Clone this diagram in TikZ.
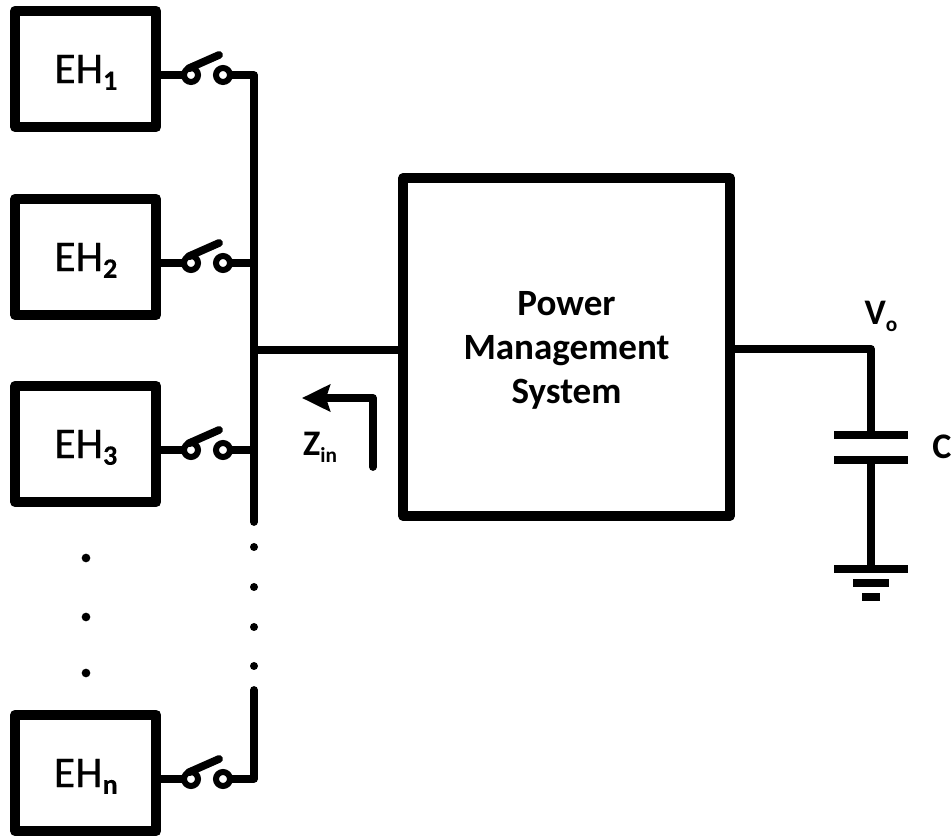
\documentclass[tikz,border=0pt]{standalone}
\usepackage{fontspec}
\setmainfont{Carlito}
\newfontfamily\ehfont[FakeBold=.35]{Carlito}
\usetikzlibrary{arrows.meta}
\usetikzlibrary{calc}
\tikzset{
	ehbox/.style={draw, line width=7.5pt, line join=round, minimum width=105.75pt, minimum height=87.4pt, inner sep=0pt, font=\ehfont\fontsize{33}{33}\selectfont},
	pmbox/.style={draw, line width=7.5pt, line join=round, minimum width=245pt, minimum height=253.5pt, inner sep=0pt},
	pmtxt/.style={align=center, inner sep=0pt, font=\fontsize{27.8}{33}\selectfont\bfseries},
	contact/.style={draw, circle, line width=4.5pt, minimum size=10.5pt, inner sep=0pt, outer sep=0pt},
	wire/.style={line width=5.8pt, line join=round},
	plate/.style={line width=5.6pt},
	lbl/.style={font=\fontsize{27}{27}\selectfont\bfseries, inner sep=0pt}
}
\newcommand{\subtxt}[2]{\smash{\raisebox{-5pt}{\fontsize{#1}{#1}\selectfont #2}}}
\begin{document}
\begin{tikzpicture}[x=.75pt, y=-.75pt]
	\useasboundingbox (0,0) rectangle (951,837);

	% harvester boxes and switches
	\foreach \n/\y/\s in {1/69/1, 2/257/2, 3/444/3, n/773/n} {
		\node[ehbox] (eh\n) at (85.75,\y) {EH\subtxt{21}{\bfseries\s}};
		\node[contact] (swa\n) at (191,\y+6) {};
		\node[contact] (swb\n) at (223,\y+6) {};
		\coordinate (tip\n) at (219,\y-14);
		\coordinate (bus\n) at (254,\y+6);
		\draw[wire] (eh\n.east |- swa\n) -- (swa\n);
		\draw[wire, line cap=round] (swa\n.110) -- (tip\n);
		\draw[wire] (swb\n) -- (bus\n);
	}

	\node[pmbox] (pms) at (566.5,347) {};
	\node[pmtxt] (pmslab) at ($(pms.center)+(0,3)$) {Power\\Management\\System};

	% bus
	\coordinate (busend) at (254,522);
	\coordinate (busgap) at (254,690);
	\coordinate (busm) at (254,350);
	\draw[wire, line cap=round] (bus1) -- (busend);
	\draw[wire, line cap=round] (busgap) -- (busn);
	\draw[wire] (busm) -- (pms.west |- busm);

	% dots
	\foreach \y [count=\i] in {547,587,627,666} {
		\node[fill, circle, inner sep=0pt, minimum size=6pt] (bd\i) at (254,\y) {};
	}
	\foreach \y [count=\i] in {558,617,673} {
		\node[fill, circle, inner sep=0pt, minimum size=6.5pt] (ld\i) at (86,\y) {};
	}

	% arrow
	\coordinate (zs) at (373,467);
	\coordinate (zc) at (373,398);
	\coordinate (zt) at (302,398);
	\draw[wire, line cap=round, -{Stealth[length=21pt, width=20pt, inset=3pt]}] (zs) -- (zc) -- (zt);
	\node[lbl] (zin) at (320,444) {Z\subtxt{16}{in}};

	% output and capacitor
	\coordinate (vo) at (871,349);
	\coordinate (captop) at (871,435);
	\coordinate (capbot) at (871,460);
	\coordinate (gnd) at (871,569);
	\draw[wire] (pms.east |- vo) -- (vo) -- (captop);
	\draw[wire] (capbot) -- (gnd);
	\draw[plate] (834,435) -- (908,435);
	\draw[plate] (834,460) -- (908,460);
	\draw[plate] (834,569) -- (908,569);
	\draw[plate] (853,583) -- (889,583);
	\draw[plate] (862,597) -- (880,597);
	\node[lbl] (vlab) at (881,313) {V\subtxt{16}{o}};
	\node[lbl, anchor=west] (clab) at (932,447) {C};
\end{tikzpicture}
\end{document}
